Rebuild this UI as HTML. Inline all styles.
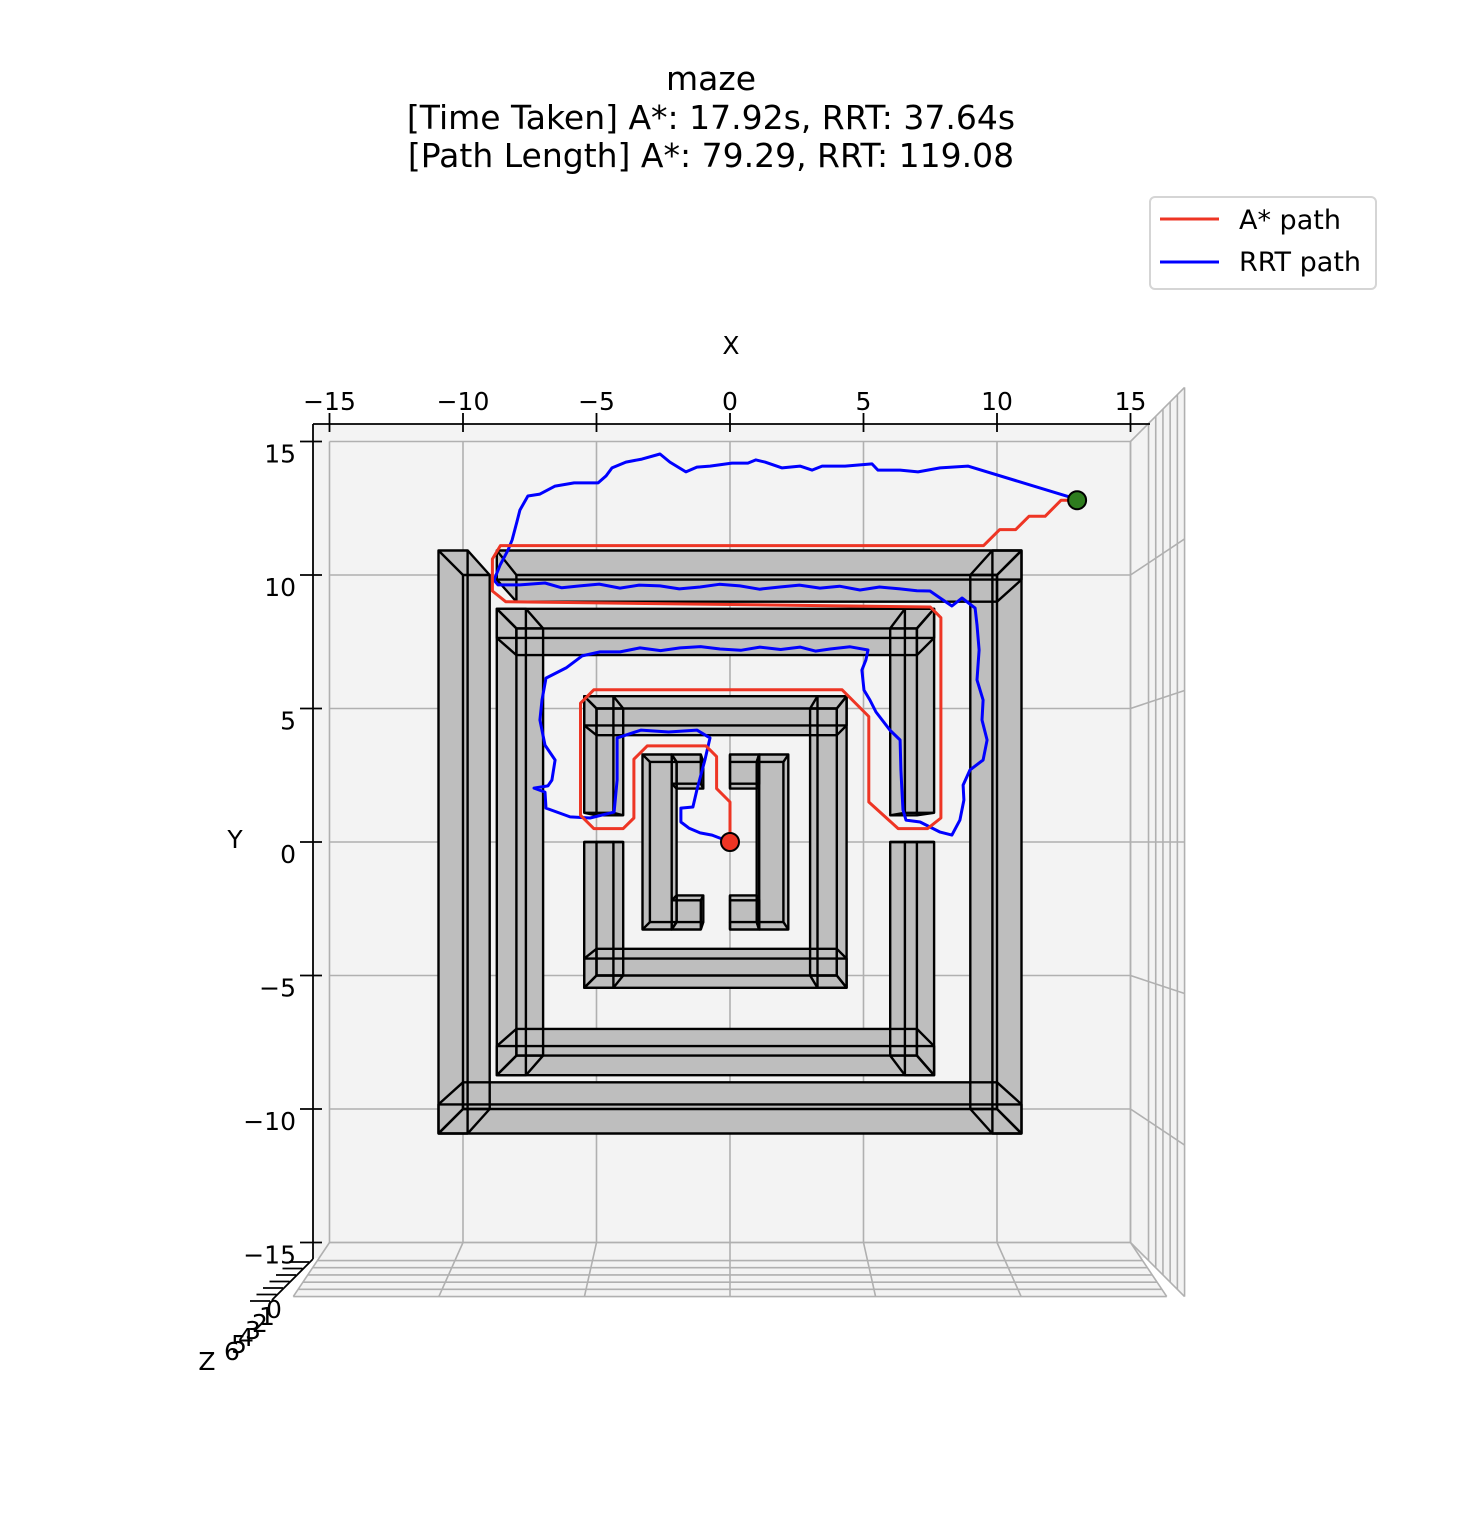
<!DOCTYPE html>
<html><head><meta charset="utf-8"><style>
html,body{margin:0;padding:0;background:#fff;}
svg{display:block;font-family:"DejaVu Sans","Liberation Sans",sans-serif;}
</style></head><body>
<svg id="chart" width="1482" height="1524" viewBox="0 0 1482 1524" xmlns="http://www.w3.org/2000/svg">
<g font-size="33" text-anchor="middle" fill="#000">
<text x="711" y="90">maze</text>
<text x="711" y="129">[Time Taken] A*: 17.92s, RRT: 37.64s</text>
<text x="711" y="167">[Path Length] A*: 79.29, RRT: 119.08</text>
</g>
<g id="panes"></g>
<g id="grid"></g>
<g id="axes"></g>
<g id="walls"></g>
<g id="wallEdges"></g>
<g id="paths"></g>
<g>
<rect x="1150" y="197" width="226" height="92" rx="5" fill="#fff" stroke="#d5d5d5" stroke-width="2"/>
<line x1="1160" y1="219" x2="1219" y2="219" stroke="#ee3524" stroke-width="3"/>
<text x="1239" y="229" font-size="27">A* path</text>
<line x1="1160" y1="262" x2="1219" y2="262" stroke="#0000ff" stroke-width="3"/>
<text x="1239" y="271" font-size="27">RRT path</text>
</g>
</svg>
<script>
const xTicks=[-15,-10,-5,0,5,10,15];
const yTicks=[15,10,5,0,-5,-10,-15];
const zTicks=[0,1,2,3,4,5,6];
// walls: [x0,x1,y0,y1]
const walls=[
[-10,-9,-10,10],[-10,10,-10,-9],[9,10,-10,10],[-8,10,9,10],
[-8,-7,-8,8],[-8,7,7,8],[6,7,1,8],[6,7,-8,0],[-8,7,-8,-7],
[-5,-4,1,5],[-5,-4,-5,0],[-5,4,4,5],[3,4,-5,5],[-5,4,-5,-4],
[-3,-2,-3,3],[-2,-1,2,3],[-2,-1,-3,-2],[0,1,2,3],[0,1,-3,-2],[1,2,-3,3]
];
const wallHeight=3.6;
const astarX=[0,0,-0.5,-0.5,-0.9,-3.1,-3.6,-3.6,-4.0,-5.1,-5.6,-5.6,-5.1,4.2,5.2,5.2,6.3,7.4,7.9,7.9,7.5,-8.4,-8.9,-8.9,-8.6,9.5,10.1,10.7,11.2,11.8,12.4,13.0];
const astarY=[0,1.5,2.0,3.2,3.6,3.6,3.1,0.9,0.5,0.5,1.0,5.2,5.7,5.7,4.7,1.5,0.5,0.5,0.9,8.4,8.8,9.0,9.4,10.6,11.1,11.1,11.7,11.7,12.2,12.2,12.8,12.8];
const rrtX=[12.96,8.91,7.87,7.04,6.37,5.54,5.32,4.31,3.45,3.07,2.62,1.95,1.31,0.97,0.67,0.07,-0.75,-1.24,-1.65,-2.25,-2.62,-3.30,-3.90,-4.42,-4.64,-4.94,-5.84,-6.55,-7.12,-7.57,-7.87,-7.98,-8.16,-8.31,-8.61,-8.84,-8.69,-7.87,-6.93,-6.3,-5.62,-4.9,-4.12,-3.4,-2.62,-1.9,-1.12,-0.4,0.37,1.1,1.87,2.6,3.37,4.1,4.87,5.6,6.37,7.0,7.49,7.87,8.31,8.69,9.18,9.25,9.33,9.25,9.48,9.44,9.63,9.48,8.99,8.73,8.76,8.61,8.31,7.87,7.12,6.59,6.48,6.44,6.40,6.37,5.99,5.47,5.24,5.02,4.94,5.09,5.17,4.5,3.75,3.2,2.62,1.9,1.12,0.4,-0.37,-1.1,-1.87,-2.6,-3.37,-4.12,-4.87,-5.54,-6.14,-6.89,-7.04,-7.12,-6.93,-6.55,-6.67,-6.82,-7.34,-6.93,-6.89,-5.99,-5.24,-4.34,-4.23,-4.23,-3.33,-2.3,-1.24,-0.75,-0.94,-1.24,-1.39,-1.84,-1.84,-1.54,-1.12,-0.67,0];
const rrtY=[12.85,14.08,14.01,13.86,13.93,13.93,14.16,14.08,14.08,13.93,14.08,14.01,14.23,14.31,14.19,14.19,14.08,14.04,13.86,14.23,14.53,14.34,14.23,14.01,13.71,13.45,13.45,13.33,13.03,12.96,12.43,11.99,11.31,10.94,10.37,9.81,9.63,9.63,9.70,9.52,9.59,9.66,9.51,9.62,9.59,9.48,9.55,9.65,9.59,9.47,9.55,9.62,9.51,9.58,9.44,9.55,9.48,9.41,9.40,9.14,8.84,9.14,8.76,8.13,7.19,6.07,5.32,4.57,3.82,3.07,2.70,2.13,1.57,0.82,0.26,0.37,0.75,0.82,1.20,1.95,2.70,3.82,4.19,4.87,5.32,5.69,6.44,6.82,7.19,7.31,7.23,7.15,7.30,7.21,7.30,7.18,7.23,7.32,7.27,7.17,7.27,7.12,7.12,6.97,6.52,6.14,5.32,4.57,3.63,3.07,2.32,2.10,2.02,1.87,1.27,0.94,0.90,1.12,2.32,3.90,4.19,4.12,4.19,3.90,3.07,1.95,1.31,1.27,0.75,0.52,0.34,0.26,0];

const NS='http://www.w3.org/2000/svg';
const CX=730, CY=842, S=26.7;
function zf(z){return z<=0?1:1.027+0.018*z;}
function px(x,f){return CX+x*S*f;}
function py(y,f){return CY-y*S*f;}
function mk(tag,parent,attrs){const e=document.createElementNS(NS,tag);for(const k in attrs)e.setAttribute(k,attrs[k]);parent.appendChild(e);return e;}
const panes=document.getElementById('panes'),grid=document.getElementById('grid'),axes=document.getElementById('axes'),wg=document.getElementById('walls'),we=document.getElementById('wallEdges'),pg=document.getElementById('paths');
const F=zf(6);
function bx(x,f){return CX+x*S*(1+(f-1)*0.67);}
let p=mk('rect',panes,{x:313,y:424,width:837,height:834,fill:'#f3f3f3'});


p=mk('polygon',panes,{points:`${px(15,1)},${py(15,1)} ${px(15,F)},${py(15,F)} ${px(15,F)},${py(-15,F)} ${px(15,1)},${py(-15,1)}`,fill:'#f3f3f3'});


p=mk('polygon',panes,{points:`${bx(-15,1)},${py(-15,1)} ${bx(15,1)},${py(-15,1)} ${bx(15,F)},${py(-15,F)} ${bx(-15,F)},${py(-15,F)}`,fill:'#f3f3f3'});


const gs={stroke:'#b0b0b0','stroke-width':1.6,fill:'none'};
xTicks.forEach(t=>{
 let l=mk('line',grid,Object.assign({x1:px(t,1),y1:py(15,1),x2:px(t,1),y2:py(-15,1)},gs));
 
 
 l=mk('line',grid,Object.assign({x1:bx(t,1),y1:py(-15,1),x2:bx(t,F),y2:py(-15,F)},gs));
 
 
});
yTicks.forEach(t=>{
 let l=mk('line',grid,Object.assign({x1:px(-15,1),y1:py(t,1),x2:px(15,1),y2:py(t,1)},gs));
 
 
 l=mk('line',grid,Object.assign({x1:px(15,1),y1:py(t,1),x2:px(15,F),y2:py(t,F)},gs));
 
 
});
zTicks.forEach(z=>{
 const f=zf(z);
 let l=mk('line',grid,Object.assign({x1:px(15,f),y1:py(15,f),x2:px(15,f),y2:py(-15,f)},gs));
 
 
 l=mk('line',grid,Object.assign({x1:bx(-15,f),y1:py(-15,f),x2:bx(15,f),y2:py(-15,f)},gs));
 
 
});
const as={stroke:'#000','stroke-width':1.8};
mk('line',axes,Object.assign({x1:313,y1:424,x2:1150,y2:424},as));
mk('line',axes,Object.assign({x1:313,y1:424,x2:313,y2:1259},as));
mk('line',axes,Object.assign({x1:313,y1:1259,x2:272,y2:1300},as));
xTicks.forEach(t=>{
 const x=px(t,1);
 mk('line',axes,Object.assign({x1:x,y1:413,x2:x,y2:432},as));
 const tx=mk('text',axes,{x:x,y:410,'font-size':25,'text-anchor':'middle'});
 tx.textContent=t<0?'\u2212'+(-t):String(t);
 
 
});
yTicks.forEach(t=>{
 const y=py(t,1);
 mk('line',axes,Object.assign({x1:300,y1:y,x2:322,y2:y},as));
 const tx=mk('text',axes,{x:296,y:y+21,'font-size':25,'text-anchor':'end'});
 tx.textContent=t<0?'\u2212'+(-t):String(t);
 
 
});
zTicks.forEach((z,i)=>{
 const y=1262+i*6.5, x=309-i*6.5;
 mk('line',axes,Object.assign({x1:x-20,y1:y,x2:x,y2:y},as));
 const tx=mk('text',axes,{x:274-7*i,y:1318+7*i,'font-size':25,'text-anchor':'middle'});
 tx.textContent=String(z);
 
 
});
let lab=mk('text',axes,{x:731,y:354,'font-size':25,'text-anchor':'middle'});lab.textContent='X';


lab=mk('text',axes,{x:235,y:848,'font-size':25,'text-anchor':'middle'});lab.textContent='Y';


lab=mk('text',axes,{x:207,y:1370,'font-size':25,'text-anchor':'middle'});lab.textContent='Z';


const ft=zf(wallHeight);
function poly(pts){return pts.map(q=>q[0].toFixed(1)+','+q[1].toFixed(1)).join(' ');}
walls.forEach(w=>{
 const [x0,x1,y0,y1]=w;
 const g=mk('g',wg,{});
 
 
 const c=[[x0,y0],[x1,y0],[x1,y1],[x0,y1]];
 const B=c.map(q=>[px(q[0],1),py(q[1],1)]), T=c.map(q=>[px(q[0],ft),py(q[1],ft)]);
 mk('polygon',g,{points:poly(B),fill:'#bebebe'});
 for(let i=0;i<4;i++){const j=(i+1)%4;mk('polygon',g,{points:poly([B[i],B[j],T[j],T[i]]),fill:'#bebebe'});}
 mk('polygon',g,{points:poly(T),fill:'#bebebe'});
 const e=mk('g',we,{stroke:'#000','stroke-width':2.4,fill:'none','stroke-linejoin':'round'});
 
 
 mk('polygon',e,{points:poly(B)});
 mk('polygon',e,{points:poly(T)});
 for(let i=0;i<4;i++){mk('line',e,{x1:B[i][0],y1:B[i][1],x2:T[i][0],y2:T[i][1]});}
});
function pathD(xs,ys){return xs.map((x,i)=>(i?'L':'M')+px(x,1).toFixed(1)+','+py(ys[i],1).toFixed(1)).join(' ');}
let rp=mk('path',pg,{d:pathD(rrtX,rrtY),fill:'none',stroke:'#0000ff','stroke-width':3,'stroke-linejoin':'round'});


let ap=mk('path',pg,{d:pathD(astarX,astarY),fill:'none',stroke:'#ee3524','stroke-width':3,'stroke-linejoin':'round'});


let sc=mk('circle',pg,{cx:px(astarX[0],1),cy:py(astarY[0],1),r:9,fill:'#ee3524',stroke:'#000','stroke-width':2});


const n=astarX.length-1;
let gc=mk('circle',pg,{cx:px(astarX[n],1),cy:py(astarY[n],1),r:9,fill:'#2e7d1e',stroke:'#000','stroke-width':2});


</script>
</body></html>
